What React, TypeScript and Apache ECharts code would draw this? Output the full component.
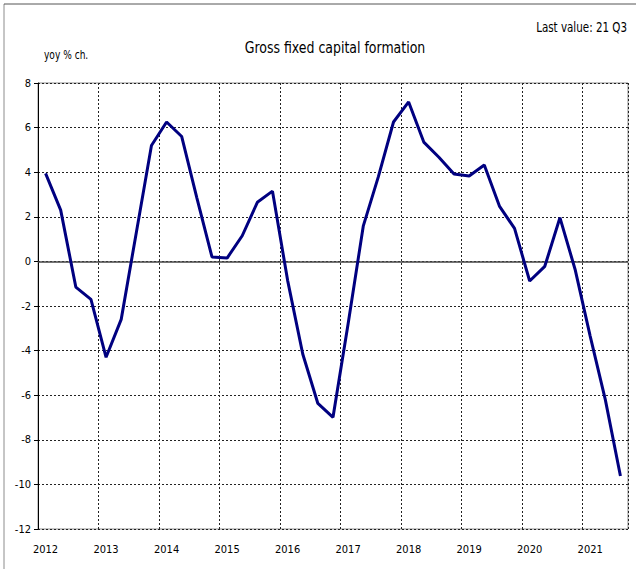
import React, { useEffect, useRef } from "react";
import * as echarts from "echarts";

const years = ["2012", "2013", "2014", "2015", "2016", "2017", "2018", "2019", "2020", "2021"];
const quarterNames = ["Q1", "Q2", "Q3", "Q4"];
const lastYearQuarters = 3;

const categories: string[] = [];
years.forEach((y, yi) => {
  const n = yi === years.length - 1 ? lastYearQuarters : 4;
  for (let q = 0; q < n; q++) categories.push(`${y} ${quarterNames[q]}`);
});

const gfcfValues = [
  3.95, 2.3, -1.15, -1.7,
  -4.3, -2.6, 1.3, 5.2,
  6.25, 5.6, 2.85, 0.2,
  0.15, 1.15, 2.65, 3.15,
  -0.85, -4.15, -6.37, -6.99,
  -2.8, 1.58, 3.8, 6.25,
  7.15, 5.35, 4.67, 3.92,
  3.83, 4.32, 2.48, 1.48,
  -0.88, -0.22, 1.96, -0.35,
  -3.35, -6.2, -9.62,
];

const yMin = -12;
const yMax = 8;
const yStep = 2;

const titleText = "Gross fixed capital formation";
const unitText = "yoy % ch.";
const lastValueText = "Last value: 21 Q3";

const FONT = "'Liberation Sans Narrow', 'Arial Narrow', 'DejaVu Sans Condensed', sans-serif";

export default function App() {
  const ref = useRef<HTMLDivElement>(null);
  useEffect(() => {
    if (!ref.current) return;
    const chart = echarts.init(ref.current, undefined, { renderer: "svg" });
    chart.setOption({
      animation: false,
      backgroundColor: "#ffffff",
      textStyle: { fontFamily: FONT },
      grid: {
        left: 38,
        right: 8,
        top: 83,
        bottom: 40,
        show: true,
        borderColor: "#8c8c8c",
        borderWidth: 1,
        backgroundColor: "transparent",
      },
      graphic: [
        { type: "line", shape: { x1: 4, y1: 4, x2: 4, y2: 569 }, style: { stroke: "#8c8c8c", lineWidth: 1 } },
        { type: "line", shape: { x1: 4, y1: 4, x2: 636, y2: 4 }, style: { stroke: "#555", lineWidth: 1 } },
        {
          type: "text",
          x: 335,
          y: 48,
          scaleX: 0.87,
          style: { text: titleText, font: `16px ${FONT}`, fill: "#000", align: "center", verticalAlign: "middle" },
        },
        {
          type: "text",
          x: 44,
          y: 55,
          scaleX: 0.84,
          style: { text: unitText, font: `12px ${FONT}`, fill: "#000", align: "left", verticalAlign: "middle" },
        },
        {
          type: "text",
          x: 627,
          y: 27,
          scaleX: 0.82,
          style: { text: lastValueText, font: `14px ${FONT}`, fill: "#000", align: "right", verticalAlign: "middle" },
        },
      ],
      xAxis: {
        type: "category",
        data: categories,
        boundaryGap: true,
        axisLine: { show: false },
        axisTick: { show: false, interval: 3 },
        axisLabel: {
          interval: 3,
          margin: 15,
          fontSize: 11,
          color: "#000",
          fontFamily: FONT,
          formatter: (v: string) => v.split(" ")[0],
        },
        splitLine: {
          show: true,
          interval: 3,
          lineStyle: { color: "#222", width: 1, type: [2, 2] },
        },
      },
      yAxis: {
        type: "value",
        min: yMin,
        max: yMax,
        interval: yStep,
        axisLine: { show: true, lineStyle: { color: "#000", width: 1 } },
        axisTick: { show: true, length: 4, lineStyle: { color: "#000" } },
        axisLabel: { fontSize: 11, color: "#000", margin: 7, fontFamily: FONT },
        splitLine: { show: true, lineStyle: { color: "#222", width: 1, type: [2, 2] } },
      },
      series: [
        {
          type: "line",
          data: gfcfValues,
          symbol: "none",
          lineStyle: { color: "#000080", width: 3 },
          itemStyle: { color: "#000080" },
          z: 5,
          markLine: {
            silent: true,
            symbol: "none",
            label: { show: false },
            lineStyle: { color: "#444", width: 1.5, type: "solid" },
            data: [{ yAxis: 0 }],
            z: 3,
          },
        },
      ],
    });
    return () => chart.dispose();
  }, []);
  return (
    <div
      ref={ref}
      style={{ position: "fixed", left: 0, top: 0, width: 636, height: 569, background: "#fff" }}
    />
  );
}
